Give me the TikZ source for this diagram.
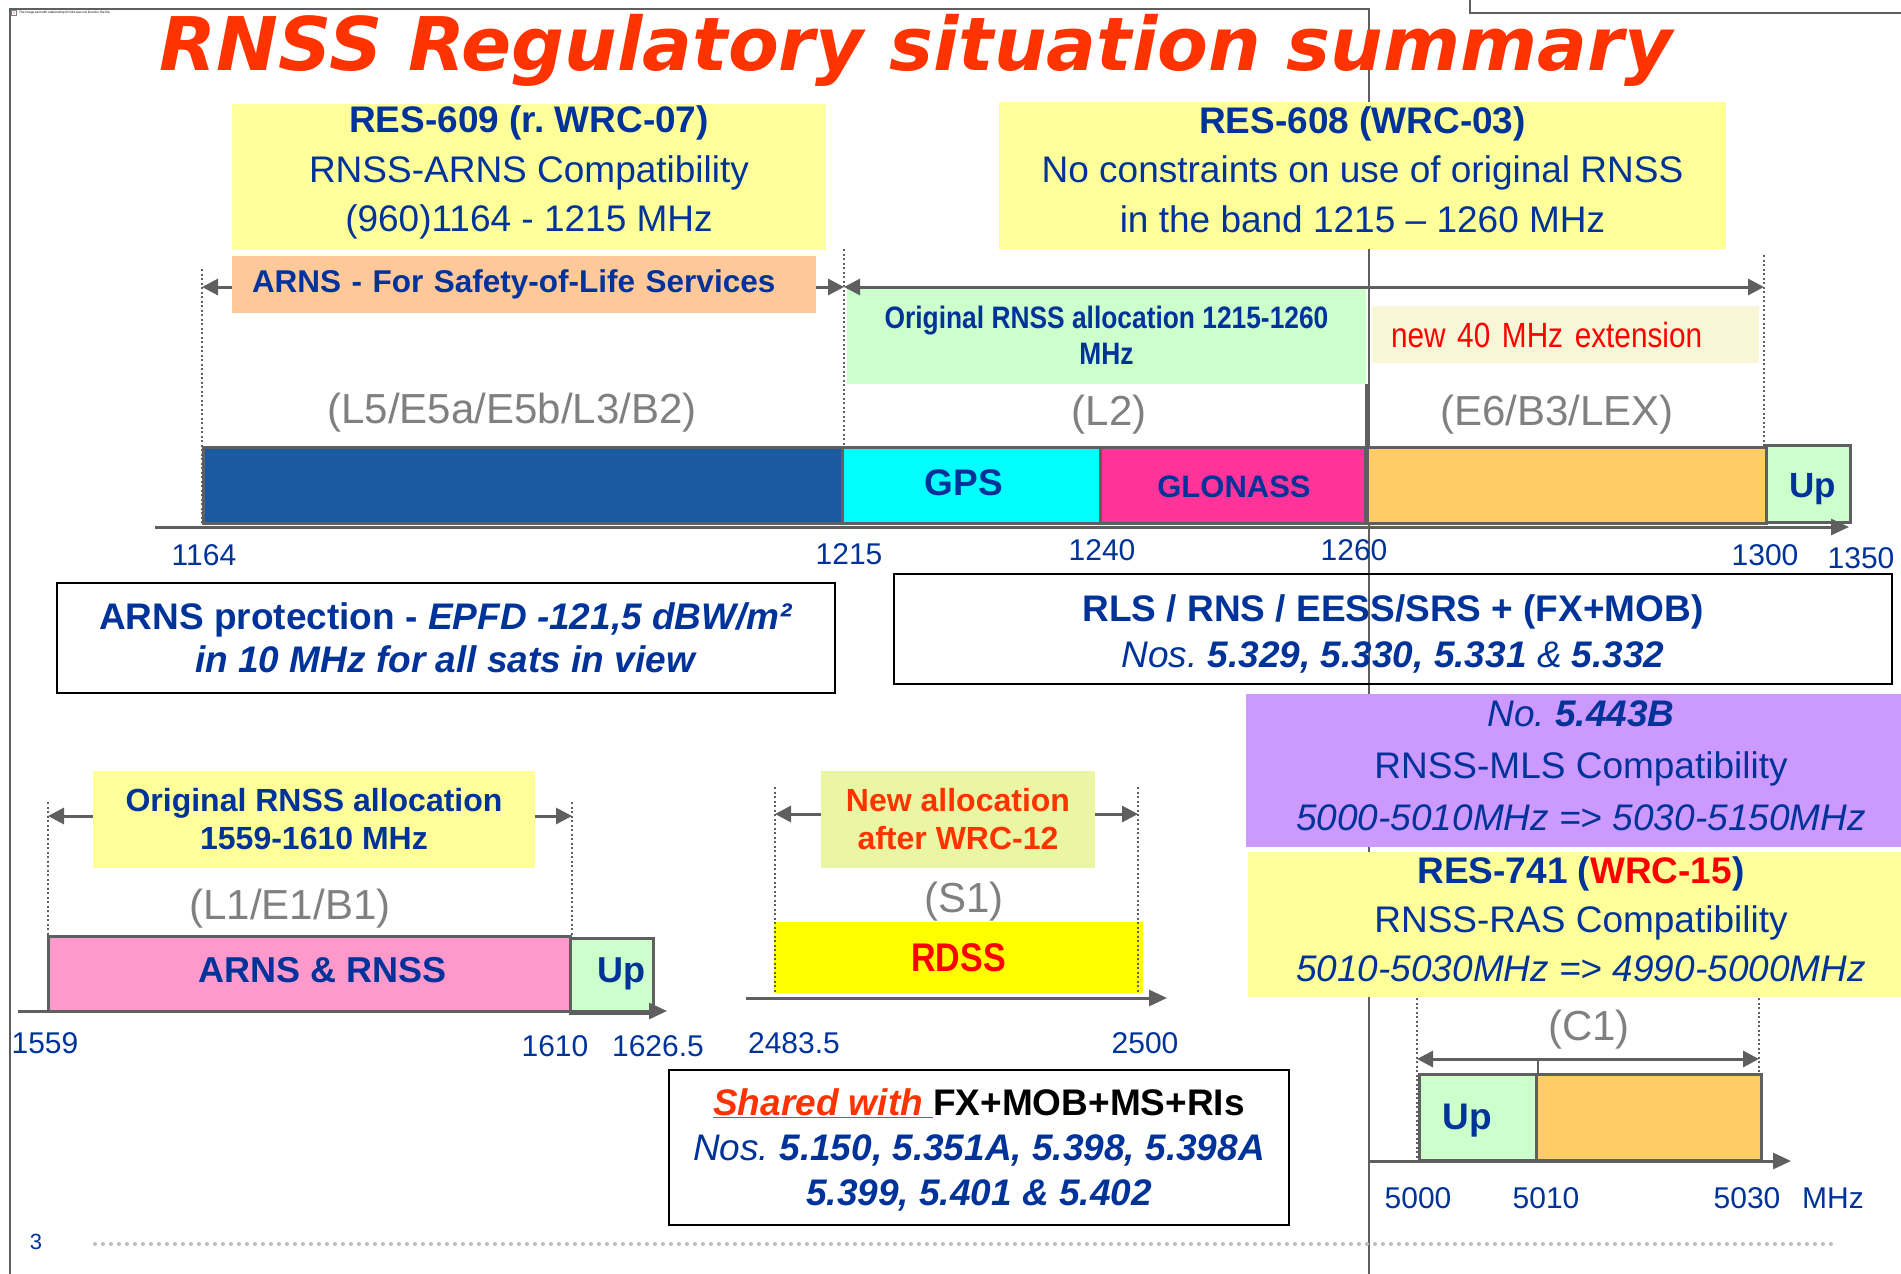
\documentclass[tikz,border=0pt]{standalone}
\usepackage{fontspec}
\setmainfont{Liberation Sans}
\newfontfamily\titlefont{DejaVu Sans}
\newfontfamily\narrowfont[FakeStretch=0.85]{Liberation Sans}
\usetikzlibrary{arrows.meta}
\frenchspacing

\definecolor{ituBlue}{HTML}{003399}
\definecolor{titleRed}{HTML}{FF3300}
\definecolor{paleYellow}{HTML}{FFFF99}
\definecolor{peach}{HTML}{FFC899}
\definecolor{paleGreen}{HTML}{CCFFCC}
\definecolor{cream}{HTML}{F9F5D7}
\definecolor{bandBlue}{HTML}{1C5AA0}
\definecolor{gpsCyan}{HTML}{00FFFF}
\definecolor{glonassPink}{HTML}{FF3399}
\definecolor{extOrange}{HTML}{FFCC66}
\definecolor{arnsPink}{HTML}{FF99CC}
\definecolor{lilac}{HTML}{CC99FF}
\definecolor{limeYellow}{HTML}{EAF6A4}
\definecolor{rdssYellow}{HTML}{FFFF00}
\definecolor{labelGray}{HTML}{808080}
\definecolor{lineGray}{HTML}{5F5F5F}
\definecolor{dotGray}{HTML}{BDBDBD}

\newcommand\fsz[2]{\fontsize{#1}{#2}\selectfont}

\begin{document}
\begin{tikzpicture}[x=1pt, y=-1pt,
  band/.style={draw=lineGray, line width=3pt, inner sep=0pt},
  bandtext/.style={anchor=base, inner sep=0pt, text=ituBlue, font=\bfseries\fsz{#1}{40}},
  bandname/.style={text=labelGray, inner sep=0pt, font=\fsz{42}{46}},
  freq/.style={text=ituBlue, inner sep=0pt, font=\fsz{30}{34}},
  tag/.style={inner sep=0pt, align=center, text=ituBlue, font=\bfseries\fsz{32}{38}},
  boxtext/.style={inner sep=0pt, align=center, text=ituBlue, font=\fsz{37}{49.5}},
  framed/.style={draw=black, line width=2.5pt},
  guide/.style={draw=lineGray, line width=2pt, dash pattern=on 2pt off 2.5pt},
  spanarrow/.style={draw=lineGray, line width=3pt, {Triangle[length=16pt,width=16pt]}-{Triangle[length=16pt,width=16pt]}},
  freqaxis/.style={draw=lineGray, line width=3pt, -{Triangle[length=18pt,width=16pt]}},
  frameline/.style={draw=lineGray, line width=1.5pt}]
\useasboundingbox (0,0) rectangle (1901,1274);

% slide frame
\draw[frameline] (10,1274) -- (10,9) -- (1369,9) -- (1369,1274);
\draw[frameline] (1470,0) -- (1470,13) -- (1901,13);
\node[draw=labelGray, line width=0.4pt, minimum size=5pt, inner sep=0pt, text=red, font=\fsz{4}{4}] (brokenIcon) at (14,13) {×};
\node[anchor=west, inner sep=0pt, font=\fsz{3.2}{4}] (brokenText) at (19,13) {The image part with relationship ID rId4 was not found in the file.};

\node[anchor=base, inner sep=0pt, text=titleRed, font=\titlefont\bfseries\itshape\fsz{74}{80}] (title) at (916,70) {RNSS Regulatory situation summary};

% resolutions on top
\node[fill=paleYellow, minimum width=594, minimum height=146] (res609) at (529,177) {};
\node[boxtext, yshift=4.5pt] (res609Text) at (res609) {\textbf{RES-609 (r. WRC-07)}\\RNSS-ARNS Compatibility\\(960)1164 - 1215 MHz};
\node[fill=paleYellow, minimum width=727, minimum height=147] (res608) at (1362.5,175.5) {};
\node[boxtext, yshift=6pt] (res608Text) at (res608) {\textbf{RES-608 (WRC-03)}\\No constraints on use of original RNSS\\in the band 1215 -- 1260 MHz};

% L5 / L2 / E6 band
\coordinate (g1164a) at (202,269); \coordinate (g1164b) at (202,524);
\coordinate (g1215a) at (844,249); \coordinate (g1215b) at (844,521);
\coordinate (g1300a) at (1764,255); \coordinate (g1300b) at (1764,446);
\draw[guide] (g1164a) -- (g1164b);
\draw[guide] (g1215a) -- (g1215b);
\draw[guide] (g1300a) -- (g1300b);
\draw[spanarrow] (g1164a |- 0,287) -- (g1215a |- 0,287);
\node[tag, fill=peach, minimum width=584, minimum height=57, inner xsep=20pt, text width=544pt, align=left,
  font=\bfseries\fsz{31.5}{38}] (arnsTag) at (524,284.5) {ARNS - For Safety-of-Life Services};
\node[tag, fill=paleGreen, minimum width=519, minimum height=97, font=\narrowfont\bfseries\fsz{31}{36}] (origTag) at (1106.5,335.5)
  {Original RNSS allocation 1215-1260\\MHz};
\draw[spanarrow] (g1215a |- 0,287) -- (g1300a |- 0,287);
\node[fill=cream, minimum width=387, minimum height=57, inner xsep=19pt, inner ysep=0pt, text width=349pt, align=left,
  text=red, font=\narrowfont\fsz{35}{40}] (extTag) at (1565.5,334.5) {new 40 MHz extension};

\node[bandname] (l5name) at (512,413) {(L5/E5a/E5b/L3/B2)};
\node[bandname] (l2name) at (1109,415) {(L2)};
\node[bandname] (e6name) at (1557,415) {(E6/B3/LEX)};

\node[band, fill=bandBlue, minimum width=639, minimum height=76] (l5bar) at (522.5,485) {};
\node[band, fill=gpsCyan, minimum width=258, minimum height=76] (gps) at (971,485) {};
\node[band, fill=glonassPink, minimum width=265, minimum height=76] (glonass) at (1232.5,485) {};
\node[band, fill=extOrange, minimum width=399, minimum height=76] (e6bar) at (1566.5,485) {};
\node[band, fill=paleGreen, minimum width=84, minimum height=77] (upL) at (1808,483.5) {};
\node[bandtext=37] (gpsText) at (964,495) {GPS};
\node[bandtext=31] (glonassText) at (1234,497) {GLONASS};
\node[bandtext=35] (upLText) at (1813,497.5) {Up};
\draw[lineGray, line width=3pt] (origTag.south east) -- (origTag.south east |- glonass.south);

\coordinate (axisTopA) at (155,527); \coordinate (axisTopB) at (1849,527);
\draw[freqaxis] (axisTopA) -- (axisTopB);
\foreach \x/\y/\f in {204/555/1164, 849/554/1215, 1102/550/1240, 1354/550/1260, 1765/555/1300, 1861/558/1350}
  \node[freq] (f\f) at (\x,\y) {\f};

% regulatory notes
\node[boxtext, framed, minimum width=778, minimum height=110, font=\bfseries\fsz{37}{43}] (arnsProt) at (446,638)
  {ARNS protection - \textit{EPFD -121,5 dBW/m²}\\\textit{in 10 MHz for all sats in view}};
\node[framed, minimum width=998, minimum height=110] (rls) at (1393,629) {};
\node[boxtext, font=\fsz{37}{46}, yshift=-4.5pt] (rlsText) at (rls)
  {\textbf{RLS / RNS / EESS/SRS + (FX+MOB)}\\\textit{Nos. \textbf{5.329, 5.330, 5.331} \& \textbf{5.332}}};
\node[fill=lilac, minimum width=660, minimum height=153] (mls) at (1576,770.5) {};
\node[boxtext, font=\fsz{37}{52}, yshift=5pt] (mlsText) at (1581,770.5)
  {\textit{No. \textbf{5.443B}}\\RNSS-MLS Compatibility\\\textit{5000-5010MHz => 5030-5150MHz}};
\node[fill=paleYellow, minimum width=658, minimum height=145] (res741) at (1577,924.5) {};
\node[boxtext, font=\fsz{37}{49}, yshift=5.5pt] (res741Text) at (1581,924.5)
  {\textbf{RES-741 (\textcolor{red}{WRC-15})}\\RNSS-RAS Compatibility\\\textit{5010-5030MHz => 4990-5000MHz}};

% L1 band
\coordinate (g1559a) at (48,802); \coordinate (g1559b) at (48,936);
\coordinate (g1610a) at (572,802); \coordinate (g1610b) at (572,936);
\draw[guide] (g1559a) -- (g1559b);
\draw[guide] (g1610a) -- (g1610b);
\draw[spanarrow] (g1559a |- 0,816) -- (g1610a |- 0,816);
\node[tag, fill=paleYellow, minimum width=442, minimum height=97] (l1Tag) at (314,819.5) {Original RNSS allocation\\1559-1610 MHz};
\node[bandname] (l1name) at (290,909) {(L1/E1/B1)};
\node[band, fill=arnsPink, minimum width=522, minimum height=75] (l1bar) at (309,973.5) {};
\node[band, fill=paleGreen, minimum width=83, minimum height=75] (upL1) at (611.5,975.5) {};
\node[bandtext=36] (l1barText) at (323,982) {ARNS \& RNSS};
\node[bandtext=36] (upL1Text) at (621,982) {Up};
\coordinate (axisL1A) at (18,1011); \coordinate (axisL1B) at (667,1011);
\draw[freqaxis] (axisL1A) -- (axisL1B);
\node[freq] (f1559) at (45,1043) {1559};
\node[freq] (f1610) at (555,1046) {1610};
\node[freq] (f1626) at (658,1046) {1626.5};

% S1 band
\node[fill=rdssYellow, minimum width=369, minimum height=71, inner sep=0pt, text=red, font=\narrowfont\bfseries\fsz{40}{44}] (rdss) at (958.5,957.5) {RDSS};
\coordinate (g2483a) at (775,787); \coordinate (g2483b) at (775,993);
\coordinate (g2500a) at (1138,787); \coordinate (g2500b) at (1138,993);
\draw[guide] (g2483a) -- (g2483b);
\draw[guide] (g2500a) -- (g2500b);
\draw[spanarrow] (g2483a |- 0,814) -- (g2500a |- 0,814);
\node[tag, fill=limeYellow, minimum width=274, minimum height=97, text=titleRed] (s1Tag) at (958,819.5) {New allocation\\after WRC-12};
\node[bandname] (s1name) at (964,902) {(S1)};
\coordinate (axisS1A) at (746,998); \coordinate (axisS1B) at (1167,998);
\draw[freqaxis] (axisS1A) -- (axisS1B);
\node[freq] (f2483) at (794,1043) {2483.5};
\node[freq] (f2500) at (1145,1043) {2500};

\node[framed, fill=white, minimum width=620, minimum height=155] (shared) at (979,1147.5) {};
\node[boxtext, font=\fsz{37}{45}, yshift=-2pt] (sharedText) at (shared)
  {\textbf{\textcolor{titleRed}{\itshape\underline{Shared with }}\textcolor{black}{FX+MOB+MS+RIs}}\\\textit{Nos. \textbf{5.150, 5.351A, 5.398, 5.398A}}\\\textbf{\textit{5.399, 5.401 \& 5.402}}};

% C1 band
\coordinate (g5000a) at (1417,998); \coordinate (g5000b) at (1417,1161);
\coordinate (g5030a) at (1759,998); \coordinate (g5030b) at (1759,1161);
\draw[guide] (g5000a) -- (g5000b);
\draw[guide] (g5030a) -- (g5030b);
\node[bandname] (c1name) at (1589,1030) {(C1)};
\draw[spanarrow] (g5000a |- 0,1059) -- (g5030a |- 0,1059);
\node[band, fill=paleGreen, minimum width=117, minimum height=86] (upC1) at (1477.5,1117) {};
\node[band, fill=extOrange, minimum width=225, minimum height=86] (c1bar) at (1648.5,1117) {};
\node[bandtext=37] (upC1Text) at (1467,1129) {Up};
\draw[lineGray, line width=2pt] (upC1.north east) -- ++(0,-15);
\coordinate (axisC1A) at (1369,1161); \coordinate (axisC1B) at (1791,1161);
\draw[freqaxis] (axisC1A) -- (axisC1B);
\foreach \x/\f in {1418/5000, 1546/5010, 1747/5030, 1833/MHz}
  \node[freq] (f\f) at (\x,1198) {\f};

% footer
\draw[dotGray, line width=4pt, line cap=round, dash pattern=on 0pt off 8pt] (95,1244) -- (1837,1244);
\node[text=ituBlue, inner sep=0pt, font=\fsz{22}{24}] (pageNo) at (36,1242) {3};
\end{tikzpicture}
\end{document}
